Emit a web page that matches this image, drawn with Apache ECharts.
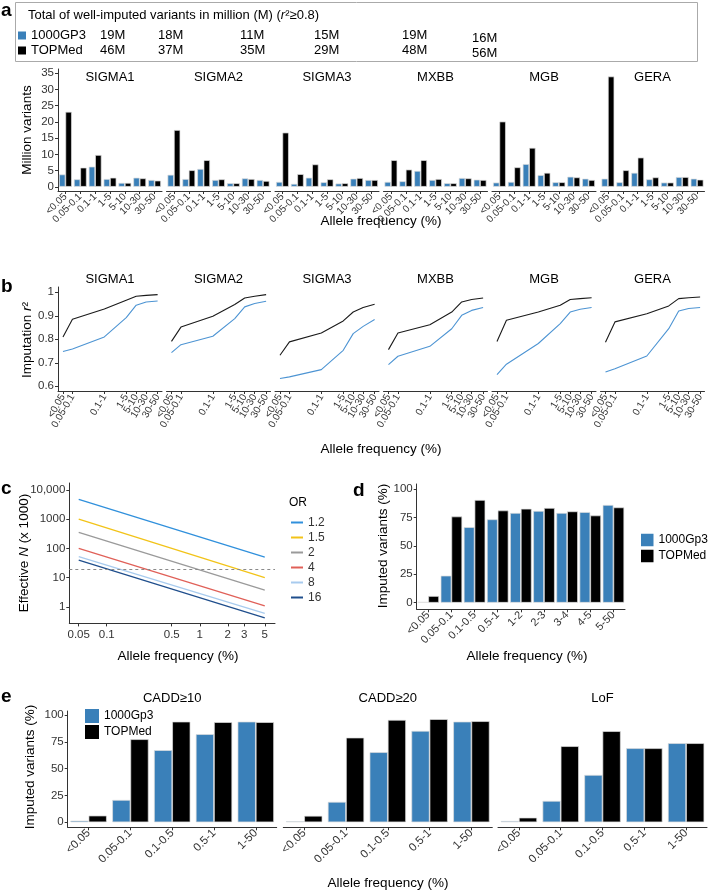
<!DOCTYPE html>
<html><head><meta charset="utf-8">
<script src="https://cdn.jsdelivr.net/npm/echarts@6/dist/echarts.min.js"></script>
<style>html,body{margin:0;padding:0;background:#fff}#c{width:708px;height:891px}</style>
</head><body><div id="c"></div>
<script>
// ---------------- DATA ----------------
const populations = ['SIGMA1','SIGMA2','SIGMA3','MXBB','MGB','GERA'];
const total1000GP3 = [19,18,11,15,19,16];
const totalTOPMed = [46,37,35,29,48,56];

const aBins = ['<0.05','0.05-0.1','0.1-1','1-5','5-10','10-30','30-50'];
const a1000G_SIGMA1 = [3.8,2.3,6.2,2.4,1.2,2.8,2.1];
const aTOPMed_SIGMA1 = [23.1,5.9,9.8,2.8,1.2,2.6,1.9];
const a1000G_SIGMA2 = [3.7,2.4,5.5,2.1,1.1,2.6,2.1];
const aTOPMed_SIGMA2 = [17.5,5.1,8.2,2.3,1.1,2.4,1.8];
const a1000G_SIGMA3 = [1.5,0.9,2.8,1.4,1.0,2.5,2.1];
const aTOPMed_SIGMA3 = [16.7,3.9,6.9,2.3,1.1,2.7,2.1];
const a1000G_MXBB = [1.5,1.7,4.9,2.1,1.1,2.7,2.2];
const aTOPMed_MXBB = [8.2,5.3,8.2,2.4,1.1,2.6,2.1];
const a1000G_MGB = [1.3,1.5,7.0,3.6,1.4,3.1,2.5];
const aTOPMed_MGB = [20.1,6.0,12.0,4.3,1.4,2.9,2.1];
const a1000G_GERA = [2.5,1.4,4.3,2.3,1.3,3.0,2.5];
const aTOPMed_GERA = [34.0,5.1,9.0,2.9,1.3,3.0,2.2];

const bBins = ['<0.05','0.05-0.1','0.1-1','1-5','5-10','10-30','30-50'];
const bBinPos = [5,14.5,46.5,68.5,78.5,88.5,100];
const b1000G_SIGMA1 = [0.748,0.759,0.810,0.892,0.945,0.959,0.963];
const bTOPMed_SIGMA1 = [0.810,0.885,0.929,0.966,0.983,0.987,0.990];
const b1000G_SIGMA2 = [0.743,0.777,0.813,0.888,0.938,0.952,0.962];
const bTOPMed_SIGMA2 = [0.791,0.852,0.898,0.948,0.976,0.983,0.990];
const b1000G_SIGMA3 = [0.633,0.640,0.671,0.753,0.824,0.855,0.884];
const bTOPMed_SIGMA3 = [0.732,0.789,0.827,0.878,0.916,0.935,0.949];
const b1000G_MXBB = [0.692,0.728,0.770,0.845,0.902,0.923,0.935];
const bTOPMed_MXBB = [0.756,0.827,0.862,0.916,0.959,0.969,0.976];
const b1000G_MGB = [0.650,0.694,0.782,0.867,0.916,0.928,0.935];
const bTOPMed_MGB = [0.791,0.881,0.916,0.945,0.969,0.973,0.977];
const b1000G_GERA = [0.661,0.675,0.729,0.845,0.920,0.931,0.935];
const bTOPMed_GERA = [0.787,0.874,0.909,0.942,0.973,0.977,0.980];

const cOR = ['1.2','1.5','2','4','8','16'];
const cFreq = [0.05, 5];
const cN_OR1_2 = [4800, 50];
const cN_OR1_5 = [1000, 10];
const cN_OR2 = [355, 3.7];
const cN_OR4 = [100, 1.08];
const cN_OR8 = [52, 0.59];
const cN_OR16 = [40, 0.42];
const cThreshold = 19;
const cXTicks = [0.05,0.1,0.5,1,2,3,5];
const cYTicks = [1,10,100,1000,10000];

const dBins = ['<0.05','0.05-0.1','0.1-0.5','0.5-1','1-2','2-3','3-4','4-5','5-50'];
const d1000G = [0.6,23.8,66.5,73.4,79.0,80.8,79.0,79.8,86.0];
const dTOPMed = [5.9,75.9,90.4,81.2,82.7,83.4,80.4,76.8,83.9];

const eClasses = ['CADD≥10','CADD≥20','LoF'];
const eBins = ['<0.05','0.05-0.1','0.1-0.5','0.5-1','1-50'];
const e1000G_CADD10 = [1.5,20.8,67.2,82.1,93.8];
const eTOPMed_CADD10 = [6.2,77.4,93.8,93.3,93.3];
const e1000G_CADD20 = [1.0,19.0,65.3,85.2,93.8];
const eTOPMed_CADD20 = [6.0,78.9,95.4,96.1,94.2];
const e1000G_LoF = [1.2,19.9,44.1,69.0,73.7];
const eTOPMed_LoF = [4.3,70.9,84.9,69.0,73.7];

// ---------------- STYLE ----------------
const FF = '"Liberation Sans", Arial, Helvetica, sans-serif';
const BLUE = '#3A80B9';
const BLACK = '#000000';
const LINEBLUE = '#4D94D3';
const ORColors = ['#3090DC','#F2C318','#9A9A9A','#E06058','#A8CBEE','#1F4E8C'];
const lineCol = '#333';
const labCol = '#333';

const a1000G = [a1000G_SIGMA1,a1000G_SIGMA2,a1000G_SIGMA3,a1000G_MXBB,a1000G_MGB,a1000G_GERA];
const aTOPMed = [aTOPMed_SIGMA1,aTOPMed_SIGMA2,aTOPMed_SIGMA3,aTOPMed_MXBB,aTOPMed_MGB,aTOPMed_GERA];
const b1000G = [b1000G_SIGMA1,b1000G_SIGMA2,b1000G_SIGMA3,b1000G_MXBB,b1000G_MGB,b1000G_GERA];
const bTOPMed = [bTOPMed_SIGMA1,bTOPMed_SIGMA2,bTOPMed_SIGMA3,bTOPMed_MXBB,bTOPMed_MGB,bTOPMed_GERA];
const cN = [cN_OR1_2,cN_OR1_5,cN_OR2,cN_OR4,cN_OR8,cN_OR16];
const e1000G = [e1000G_CADD10,e1000G_CADD20,e1000G_LoF];
const eTOPMed = [eTOPMed_CADD10,eTOPMed_CADD20,eTOPMed_LoF];

const grids = [], xAxes = [], yAxes = [], series = [], legends = [], graphics = [];
function addGrid(g, x, y) {
  g.outerBoundsMode = 'none';
  grids.push(g);
  const gi = grids.length - 1;
  x.gridIndex = gi; y.gridIndex = gi;
  xAxes.push(x); yAxes.push(y);
  return {gi, xi: xAxes.length - 1, yi: yAxes.length - 1};
}
function catX(data, fontSize, rot) {
  return { type:'category', data,
    axisLine:{show:true, onZero:false, lineStyle:{color:lineCol, width:1}},
    axisTick:{show:true, alignWithLabel:true, length:3, lineStyle:{color:lineCol}},
    axisLabel:{show:true, interval:0, rotate:rot, fontSize, fontFamily:FF, color:labCol, margin:4,
      showMinLabel:true, showMaxLabel:true, hideOverlap:false},
    splitLine:{show:false} };
}
function valY(min, max, ticks, fmt, show, type) {
  return { type: type || 'value', min, max, show,
    axisLine:{show:true, onZero:false, lineStyle:{color:lineCol, width:1}},
    axisTick:{show:true, length:3, customValues:ticks, lineStyle:{color:lineCol}},
    axisLabel:{show:true, customValues:ticks, formatter:fmt, fontSize:11.5, fontFamily:FF, color:labCol, margin:4,
      showMinLabel:true, showMaxLabel:true, hideOverlap:false},
    minorTick:{show:false}, splitLine:{show:false} };
}
function T(x, y, text, o) {
  o = o || {};
  const size = o.size || 13.5;
  return { type:'text', x, y, rotation:o.rot || 0, z:50, silent:true,
    style:{ text, fill:o.color || '#000', fontSize:size, fontFamily:FF,
      fontWeight:o.bold ? 'bold' : 'normal',
      align:o.align || 'center', verticalAlign:o.va || 'middle',
      textAlign:o.align || 'center', textVerticalAlign:o.va || 'middle',
      rich:o.rich } };
}
const italicRich = (size) => ({ i:{fontStyle:'italic', fontSize:size, fontFamily:FF, fill:'#000'},
                                 n:{fontSize:size, fontFamily:FF, fill:'#000'} });
const barBorder = {borderColor:'#dedede', borderWidth:0.7};

// ---------------- PANEL A ----------------
graphics.push({type:'rect', shape:{x:15.5, y:2.5, width:682, height:59}, style:{fill:'none', stroke:'#aaa', lineWidth:1}, silent:true});
graphics.push(T(28, 15, '{n|Total of well-imputed variants in million (M) (}{i|r}{n|²≥0.8)}', {align:'left', size:13, rich:italicRich(13)}));
const totX = [100,158,240,314,402,472];
populations.forEach((p, i) => {
  const dy = (i === 5) ? 3 : 0;
  graphics.push(T(totX[i], 35 + dy, total1000GP3[i] + 'M', {align:'left', size:13}));
  graphics.push(T(totX[i], 50 + dy, totalTOPMed[i] + 'M', {align:'left', size:13}));
});
legends.push({ data:['1000GP3','TOPMed'], left:18, top:28, orient:'vertical', icon:'rect',
  itemWidth:8, itemHeight:8, itemGap:0, padding:0, selectedMode:false,
  itemStyle:{borderWidth:0},
  textStyle:{fontSize:13, fontFamily:FF, color:'#000', lineHeight:15} });

const aTicks = [0,5,10,15,20,25,30,35];
populations.forEach((p, i) => {
  const left = 58 + i * 108.5;
  const ix = addGrid({left, top:69, width:104, height:122},
    catX(aBins, 10, 45),
    valY(-1.3, 36.3, aTicks, v => String(Math.round(v)), i === 0));
  series.push({type:'bar', name:'1000GP3', xAxisIndex:ix.xi, yAxisIndex:ix.yi, data:a1000G[i],
    itemStyle:Object.assign({color:BLUE}, barBorder), barGap:'0%', barCategoryGap:'14%'});
  series.push({type:'bar', name:'TOPMed', xAxisIndex:ix.xi, yAxisIndex:ix.yi, data:aTOPMed[i],
    itemStyle:Object.assign({color:BLACK}, barBorder), barGap:'0%', barCategoryGap:'14%'});
  graphics.push(T(left + 52, 77, p, {size:13}));
});
graphics.push(T(27, 130, 'Million variants', {rot:Math.PI/2}));
graphics.push(T(381, 221, 'Allele frequency (%)'));

// ---------------- PANEL B ----------------
const bTicks = [0.6,0.7,0.8,0.9,1.0];
const bLab = v => { const k = bBinPos.findIndex(q => Math.abs(q - v) < 1e-6); return k >= 0 ? bBins[k] : ''; };
// labels split over two stacked axes so the two close low-frequency labels both show
const bLabelSetA = bBinPos.filter((q, k) => k !== 1);
const bLabelSetB = bBinPos.filter((q, k) => k === 1);
function bAxis(labelVals, showLine) {
  return { type:'value', min:0, max:104.4, position:'bottom',
    axisLine:{show:showLine, onZero:false, lineStyle:{color:lineCol, width:1}},
    axisTick:{show:showLine, length:3, customValues:bBinPos, lineStyle:{color:lineCol}},
    axisLabel:{show:true, customValues:labelVals, formatter:bLab, rotate:60, fontSize:10, fontFamily:FF, color:labCol, margin:4,
      showMinLabel:true, showMaxLabel:true, hideOverlap:false},
    splitLine:{show:false} };
}
populations.forEach((p, i) => {
  const left = 58 + i * 108.5;
  const ix = addGrid({left, top:287, width:104, height:104}, bAxis(bLabelSetA, true),
    valY(0.58, 1.0225, bTicks, v => String(Math.round(v * 10) / 10), i === 0));
  const extra = bAxis(bLabelSetB, false);
  extra.gridIndex = ix.gi;
  xAxes.push(extra);
  series.push({type:'line', name:'1000GP3 r2', xAxisIndex:ix.xi, yAxisIndex:ix.yi, symbol:'none',
    data:bBinPos.map((x, j) => [x, b1000G[i][j]]), lineStyle:{color:LINEBLUE, width:1.1}, color:LINEBLUE});
  series.push({type:'line', name:'TOPMed r2', xAxisIndex:ix.xi, yAxisIndex:ix.yi, symbol:'none',
    data:bBinPos.map((x, j) => [x, bTOPMed[i][j]]), lineStyle:{color:'#1a1a1a', width:1.1}, color:'#1a1a1a'});
  graphics.push(T(left + 52, 279, p, {size:13}));
});
graphics.push(T(27, 340, '{n|Imputation }{i|r}{n|²}', {rot:Math.PI/2, rich:italicRich(13.5)}));
graphics.push(T(381, 449, 'Allele frequency (%)'));

// ---------------- PANEL C ----------------
const cXLab = v => { const k = cXTicks.findIndex(q => Math.abs(q - v) / q < 1e-3); return k >= 0 ? String(cXTicks[k]) : ''; };
const cYLab = v => { const r = Math.round(v); return r >= 10000 ? '10,000' : String(r); };
{
  const xa = { type:'log', logBase:10, min:0.0396, max:6.44,
    axisLine:{show:true, onZero:false, lineStyle:{color:lineCol, width:1}},
    axisTick:{show:true, length:3, customValues:cXTicks, lineStyle:{color:lineCol}},
    axisLabel:{show:true, customValues:cXTicks, formatter:cXLab, fontSize:11.5, fontFamily:FF, color:labCol, margin:5,
      showMinLabel:true, showMaxLabel:true},
    minorTick:{show:false}, splitLine:{show:false} };
  const ya = valY(0.27, 17400, cYTicks, cYLab, true, 'log');
  ya.logBase = 10;
  const ix = addGrid({left:69.3, top:483, width:205.7, height:140.4}, xa, ya);
  cOR.forEach((o, k) => {
    const s = {type:'line', name:o, xAxisIndex:ix.xi, yAxisIndex:ix.yi, symbol:'none', color:ORColors[k],
      data:cFreq.map((f, j) => [f, cN[k][j]]), lineStyle:{color:ORColors[k], width:1.3}};
    if (k === 0) {
      s.markLine = {silent:true, symbol:['none','none'], label:{show:false},
        lineStyle:{type:[3,3], color:'#8a8a8a', width:1}, data:[{yAxis:cThreshold}]};
    }
    series.push(s);
  });
}
legends.push({ data:cOR, left:291, top:515, orient:'vertical', icon:'rect',
  itemWidth:12, itemHeight:2, itemGap:0, padding:0, selectedMode:false,
  textStyle:{fontSize:12, fontFamily:FF, color:'#333', lineHeight:15} });
graphics.push(T(298, 503, 'OR', {size:12}));
graphics.push(T(24, 553, '{n|Effective }{i|N}{n| (x 1000)}', {rot:Math.PI/2, rich:italicRich(13.5)}));
graphics.push(T(178, 656, 'Allele frequency (%)'));

// ---------------- PANEL D ----------------
{
  const ix = addGrid({left:416.7, top:484, width:208.3, height:125.3},
    catX(dBins, 11, 45),
    valY(-5.8, 104.5, [0,25,50,75,100], v => String(Math.round(v)), true));
  series.push({type:'bar', name:'1000Gp3', xAxisIndex:ix.xi, yAxisIndex:ix.yi, data:d1000G,
    itemStyle:Object.assign({color:BLUE}, barBorder), barGap:'0%', barCategoryGap:'7%'});
  series.push({type:'bar', name:'TOPMed', xAxisIndex:ix.xi, yAxisIndex:ix.yi, data:dTOPMed,
    itemStyle:Object.assign({color:BLACK}, barBorder), barGap:'0%', barCategoryGap:'7%'});
}
legends.push({ data:['1000Gp3','TOPMed'], left:641, top:533, orient:'vertical', icon:'rect',
  itemWidth:12.5, itemHeight:12.5, itemGap:2, padding:0, selectedMode:false,
  itemStyle:{borderWidth:0},
  textStyle:{fontSize:12, fontFamily:FF, color:'#000', lineHeight:14} });
graphics.push(T(383, 546, 'Imputed variants (%)', {rot:Math.PI/2}));
graphics.push(T(527, 656, 'Allele frequency (%)'));

// ---------------- PANEL E ----------------
const eLefts = [67.7, 283.3, 498];
eClasses.forEach((c, i) => {
  const ix = addGrid({left:eLefts[i], top:711, width:209, height:116.3},
    catX(eBins, 11.5, 45),
    valY(-4.7, 103.7, [0,25,50,75,100], v => String(Math.round(v)), i === 0));
  series.push({type:'bar', name:'1000Gp3', xAxisIndex:ix.xi, yAxisIndex:ix.yi, data:e1000G[i],
    itemStyle:Object.assign({color:BLUE}, barBorder), barGap:'0%', barCategoryGap:'13%'});
  series.push({type:'bar', name:'TOPMed', xAxisIndex:ix.xi, yAxisIndex:ix.yi, data:eTOPMed[i],
    itemStyle:Object.assign({color:BLACK}, barBorder), barGap:'0%', barCategoryGap:'13%'});
  graphics.push(T(eLefts[i] + 104.5, 698, c, {size:13}));
});
legends.push({ data:['1000Gp3','TOPMed'], left:85, top:709, orient:'vertical', icon:'rect',
  itemWidth:14, itemHeight:14, itemGap:2, padding:0, selectedMode:false,
  itemStyle:{borderWidth:0},
  textStyle:{fontSize:12, fontFamily:FF, color:'#000', lineHeight:14} });
graphics.push(T(30, 767, 'Imputed variants (%)', {rot:Math.PI/2}));
graphics.push(T(388, 883, 'Allele frequency (%)'));

// ---------------- PANEL LABELS ----------------
graphics.push(T(1, 11, 'a', {bold:true, size:19, align:'left'}));
graphics.push(T(1, 287, 'b', {bold:true, size:19, align:'left'}));
graphics.push(T(1, 489, 'c', {bold:true, size:19, align:'left'}));
graphics.push(T(353, 491, 'd', {bold:true, size:19, align:'left'}));
graphics.push(T(1, 697, 'e', {bold:true, size:19, align:'left'}));

const chart = echarts.init(document.getElementById('c'), null, {renderer:'canvas'});
chart.setOption({
  animation:false,
  backgroundColor:'#fff',
  textStyle:{fontFamily:FF},
  tooltip:{show:false},
  grid:grids, xAxis:xAxes, yAxis:yAxes, series, legend:legends,
  graphic:graphics
});
</script></body></html>
